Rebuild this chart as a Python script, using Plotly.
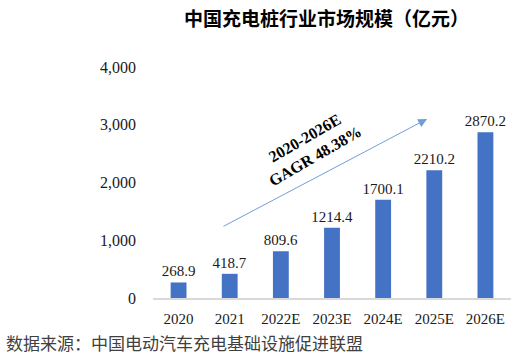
import plotly.graph_objects as go

categories = ["2020", "2021", "2022E", "2023E", "2024E", "2025E", "2026E"]
values = [268.9, 418.7, 809.6, 1214.4, 1700.1, 2210.2, 2870.2]
value_labels = ["268.9", "418.7", "809.6", "1214.4", "1700.1", "2210.2", "2870.2"]
y_tickvals = [0, 1000, 2000, 3000, 4000]
y_ticktext = ["0", "1,000", "2,000", "3,000", "4,000"]

title_text = "中国充电桩行业市场规模（亿元）"
source_text = "数据来源：中国电动汽车充电基础设施促进联盟"
cagr_text = "2020-2026E<br>GAGR 48.38%"

serif = "Liberation Serif, Times New Roman, serif"
cjk = "Noto Sans CJK SC, sans-serif"

fig = go.Figure()
fig.add_trace(go.Bar(
    x=categories, y=values, text=value_labels, textposition="outside",
    constraintext="none",
    textfont=dict(family=serif, size=15, color="#1a1a1a"),
    marker=dict(color="#4472C4", line=dict(width=0)),
    cliponaxis=False, hoverinfo="skip",
))

fig.update_layout(
    width=523, height=355,
    margin=dict(l=153, r=12, t=67, b=57),
    paper_bgcolor="white", plot_bgcolor="white",
    showlegend=False, bargap=0.69,
    xaxis=dict(
        showgrid=False, showline=True, linecolor="#d9d9d9", linewidth=1.5,
        ticks="", tickfont=dict(family=serif, size=15, color="#1a1a1a"),
        ticklabelstandoff=6,
    ),
    yaxis=dict(
        range=[0, 4000], showgrid=False, showline=False, zeroline=False,
        tickvals=y_tickvals, ticktext=y_ticktext, ticks="",
        tickfont=dict(family=serif, size=16, color="#1a1a1a"),
        ticklabelstandoff=16,
    ),
)

# title
fig.add_annotation(text=title_text, xref="paper", yref="paper",
                   x=(182 - 153) / 358, y=(297.7 - 18) / 230.5,
                   xanchor="left", yanchor="middle", showarrow=False,
                   font=dict(family=cjk, size=19, color="#000000", weight="bold"))
# source
fig.add_annotation(text=source_text, xref="paper", yref="paper",
                   x=(4 - 153) / 358, y=(297.7 - 342) / 230.5,
                   xanchor="left", yanchor="middle", showarrow=False,
                   font=dict(family=cjk, size=17, color="#404040"))
# arrow
fig.add_annotation(x=4.86, y=3101, ax=0.848, ay=1227,
                   xref="x", yref="y", axref="x", ayref="y",
                   text="", showarrow=True, arrowhead=2, arrowsize=1.8,
                   arrowwidth=1, arrowcolor="#6F9FD8")
# CAGR text
fig.add_annotation(text=cagr_text, xref="paper", yref="paper",
                   x=(310 - 153) / 358, y=(297.7 - 147) / 230.5,
                   xanchor="center", yanchor="middle", showarrow=False,
                   textangle=-30,
                   font=dict(family=serif, size=16, color="#000000", weight="bold"))

fig.write_html("out.html", config={"displayModeBar": False},
               post_script="document.body.style.margin='0';")
